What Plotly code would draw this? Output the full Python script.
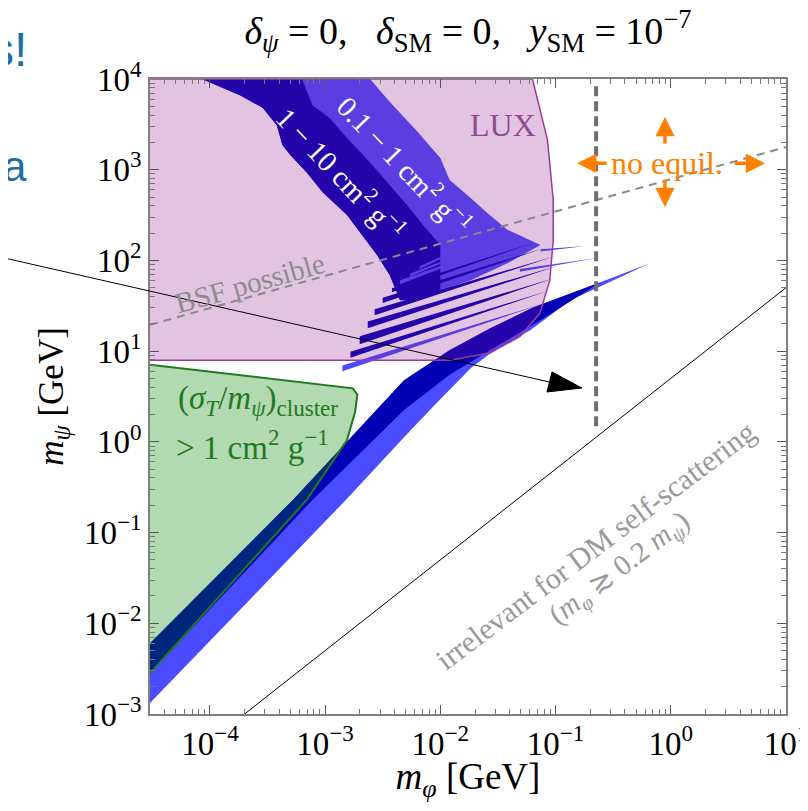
import numpy as np
import plotly.graph_objects as go

# region outlines, all as log10(mass / GeV)
LUX_LOG_MPHI = [-4.52, -1.20, -1.07, -1.02, -1.02, -1.05, -1.135, -1.31, -1.57, -1.92, -4.52]
LUX_LOG_MPSI = [4.00, 4.00, 3.33, 2.67, 2.22, 1.78, 1.42, 1.16, 0.98, 0.90, 0.90]

CLUSTER_LOG_MPHI = [-4.52, -3.45, -2.76, -2.72, -2.74, -2.81, -2.96, -3.16, -4.52]
CLUSTER_LOG_MPSI = [0.85, 0.69, 0.59, 0.52, 0.33, 0.02, -0.26, -0.64, -2.55]

# upper branch (1-10 and 0.1-1 cm^2/g)
UP_EDGE_LOG_MPHI = [-4.07, -3.74, -3.54, -3.42, -3.37, -3.30, -3.16, -3.02, -2.81, -2.70, -2.55, -2.44, -2.35]
UP_EDGE_LOG_MPSI = [4.00, 3.82, 3.68, 3.49, 3.27, 3.16, 2.97, 2.75, 2.50, 2.31, 2.06, 1.84, 1.56]
UP_DARK_RIGHT_LOG_MPHI = [-2.18, -2.00, -2.00, -2.15, -2.29, -2.44, -2.61, -2.81, -2.96, -3.11, -3.20]
UP_DARK_RIGHT_LOG_MPSI = [1.56, 1.67, 2.17, 2.39, 2.61, 2.83, 3.08, 3.35, 3.57, 3.71, 4.00]
UP_LIGHT_RIGHT_LOG_MPHI = [-2.00, -1.74, -1.40, -1.13, -1.42, -1.59, -1.72, -1.92, -2.00, -2.20, -2.44, -2.61]
UP_LIGHT_RIGHT_LOG_MPSI = [1.67, 1.78, 1.98, 2.17, 2.34, 2.52, 2.67, 2.89, 3.13, 3.42, 3.75, 4.00]

# lower branch
LOW_TOP_LOG_MPHI = [-4.52, -3.28, -2.315, -1.92, -1.57, -1.195, -0.61]
LOW_TOP_LOG_MPSI = [-2.22, -0.64, 0.68, 1.01, 1.25, 1.48, 1.76]
LOW_MID_LOG_MPHI = [-4.52, -3.11, -2.315, -1.92, -1.57, -1.13]
LOW_MID_LOG_MPSI = [-2.55, -0.64, 0.35, 0.74, 1.01, 1.34]
LOW_BOT_LOG_MPHI = [-4.52, -2.82, -2.315, -2.03, -1.73, -1.56, -1.22, -0.87, -0.18]
LOW_BOT_LOG_MPSI = [-2.88, -0.64, 0.05, 0.43, 0.82, 0.98, 1.23, 1.56, 1.97]

# resonance streaks: base (x0, y0), tip (x1, y1), half width, dark or light
WEDGE_X0 = [-2.85, -2.78, -2.70, -2.63, -2.57, -2.50, -2.42, -2.35, -2.26, -2.18, -1.13, -1.31]
WEDGE_Y0 = [0.81, 0.96, 1.12, 1.29, 1.43, 1.56, 1.67, 1.76, 1.84, 1.92, 2.11, 1.89]
WEDGE_X1 = [-1.09, -1.05, -1.00, -0.98, -1.00, -1.09, -1.18, -1.26, -1.35, -1.44, -0.74, -0.63]
WEDGE_Y1 = [1.53, 1.67, 1.81, 1.94, 2.05, 2.14, 2.20, 2.27, 2.31, 2.36, 2.16, 2.03]
WEDGE_W = [0.033, 0.033, 0.044, 0.038, 0.033, 0.028, 0.022, 0.022, 0.017, 0.017, 0.012, 0.015]
WEDGE_DARK = [False, True, True, True, True, True, True, False, False, False, False, False]

BSF_LOG_MPHI = [-4.52, 1.0]
BSF_LOG_MPSI = [1.29, 3.25]
EQUIL_MPHI = 0.225
EQUIL_LOG_MPSI = [3.92, 0.13]
RATIO = 0.2  # m_phi = 0.2 m_psi
RATIO_MPSI = [1e-3, 50]

X_TICKS = [1e-4, 1e-3, 1e-2, 1e-1, 1, 10]
X_TICK_TEXT = ["10<sup>−4</sup>", "10<sup>−3</sup>", "10<sup>−2</sup>", "10<sup>−1</sup>", "10<sup>0</sup>", "10<sup>1</sup>"]
Y_TICKS = [1e-3, 1e-2, 1e-1, 1, 10, 100, 1e3, 1e4]
Y_TICK_TEXT = ["10<sup>−3</sup>", "10<sup>−2</sup>", "10<sup>−1</sup>", "10<sup>0</sup>",
               "10<sup>1</sup>", "10<sup>2</sup>", "10<sup>3</sup>", "10<sup>4</sup>"]

DARK = "#0000B4"
LIGHT = "#4B4BFF"
SERIF = "Liberation Serif"


def gev(vals):
    return [None if v is None else 10 ** v for v in vals]


def poly(xs, ys, color, line_color=None, line_width=0, smooth=False):
    return go.Scatter(
        x=gev(xs), y=gev(ys), mode="lines", fill="toself", fillcolor=color,
        line=dict(color=line_color or color, width=line_width, shape="spline" if smooth else "linear"),
        hoverinfo="skip", showlegend=False,
    )


fig = go.Figure()

# lower branch
fig.add_trace(poly(LOW_TOP_LOG_MPHI + LOW_BOT_LOG_MPHI[::-1], LOW_TOP_LOG_MPSI + LOW_BOT_LOG_MPSI[::-1], LIGHT))
fig.add_trace(poly(LOW_TOP_LOG_MPHI + LOW_MID_LOG_MPHI[::-1], LOW_TOP_LOG_MPSI + LOW_MID_LOG_MPSI[::-1], DARK))

# upper branch
fig.add_trace(poly(UP_EDGE_LOG_MPHI + UP_LIGHT_RIGHT_LOG_MPHI, UP_EDGE_LOG_MPSI + UP_LIGHT_RIGHT_LOG_MPSI, LIGHT))
fig.add_trace(poly(UP_EDGE_LOG_MPHI + UP_DARK_RIGHT_LOG_MPHI, UP_EDGE_LOG_MPSI + UP_DARK_RIGHT_LOG_MPSI, DARK))

# streaks
for dark in (False, True):
    wx, wy = [], []
    for x0, y0, x1, y1, w, d in zip(WEDGE_X0, WEDGE_Y0, WEDGE_X1, WEDGE_Y1, WEDGE_W, WEDGE_DARK):
        if d != dark:
            continue
        wx += [x0, x1, x0, x0, None]
        wy += [y0 + w, y1, y0 - w, y0 + w, None]
    fig.add_trace(poly(wx, wy, DARK if dark else LIGHT))

# LUX and cluster constraints
fig.add_trace(poly(LUX_LOG_MPHI, LUX_LOG_MPSI, "rgba(140,20,140,0.25)", "#9B3C9B", 1.5))
fig.add_trace(poly(CLUSTER_LOG_MPHI, CLUSTER_LOG_MPSI, "rgba(0,128,0,0.3)", "#1E7B1E", 2))

# lines
fig.add_trace(go.Scatter(x=gev(BSF_LOG_MPHI), y=gev(BSF_LOG_MPSI), mode="lines",
                         line=dict(color="#888888", width=2, dash="8px,6px"), hoverinfo="skip", showlegend=False))
fig.add_trace(go.Scatter(x=[EQUIL_MPHI, EQUIL_MPHI], y=gev(EQUIL_LOG_MPSI), mode="lines",
                         line=dict(color="#6E6E6E", width=4, dash="10px,5px"), hoverinfo="skip", showlegend=False))
fig.add_trace(go.Scatter(x=[RATIO * m for m in RATIO_MPSI], y=RATIO_MPSI, mode="lines",
                         line=dict(color="black", width=1), hoverinfo="skip", showlegend=False))


def minor_vals(lo, hi):
    return [k * 10.0 ** n for n in range(lo, hi) for k in range(2, 10)]


axis_common = dict(
    type="log", showgrid=False, zeroline=False, showline=True, linecolor="#808080", linewidth=1.5,
    mirror="allticks", ticks="inside", ticklen=9, tickcolor="#555555", tickwidth=1, automargin=False,
    tickfont=dict(family=SERIF, size=33, color="black"), ticklabeloverflow="allow",
)
fig.update_xaxes(
    range=[-4.52, 1.0005], tickmode="array", tickvals=X_TICKS, ticktext=X_TICK_TEXT,
    minor=dict(tickmode="array", tickvals=minor_vals(-5, 1), ticks="inside", ticklen=5, tickcolor="#777777"),
    title=dict(text="<i>m</i><sub><i>φ</i></sub> [GeV]", font=dict(family=SERIF, size=37, color="black"), standoff=2),
    **axis_common,
)
fig.update_yaxes(
    range=[-3, 4], tickmode="array", tickvals=Y_TICKS, ticktext=Y_TICK_TEXT,
    minor=dict(tickmode="array", tickvals=minor_vals(-3, 4), ticks="inside", ticklen=5, tickcolor="#777777"),
    title=dict(text="<i>m</i><sub><i>ψ</i></sub> [GeV]", font=dict(family=SERIF, size=35, color="black"), standoff=10),
    **axis_common,
)

ann = []


def label(text, x, y, color, size, angle=0, **kw):
    ann.append(dict(text=text, x=x, y=y, xref="x", yref="y", showarrow=False, textangle=angle,
                    font=dict(family=SERIF, size=size, color=color), **kw))


label("LUX", -1.456, 3.49, "#8E4A8E", 32)
label("BSF possible", -3.65, 1.75, "#8C8C8C", 29, -15.7)
label("no equil.", -0.032, 3.07, "#FF8000", 32)
label("1 − 10 cm<sup>2</sup> g<sup>−1</sup>", -2.86, 2.96, "white", 29, 46.6)
label("0.1 − 1 cm<sup>2</sup> g<sup>−1</sup>", -2.31, 3.06, "white", 29, 46.5)
label("(<i>σ</i><sub><i>T</i></sub>/<i>m</i><sub><i>ψ</i></sub>)<sub>cluster</sub>", -3.58, 0.46, "#1E7B1E", 33)
label("> 1 cm<sup>2</sup> g<sup>−1</sup>", -3.63, -0.035, "#1E7B1E", 33)
label("irrelevant for DM self-scattering", -0.657, -1.14, "#999999", 30, -37)
label("(<i>m</i><sub><i>φ</i></sub> ≳ 0.2 <i>m</i><sub><i>ψ</i></sub>)", -0.44, -1.41, "#999999", 29, -37)

# orange arrows round "no equil."
for hx, hy, ax, ay in [(-0.813, 3.07, 31, 0), (0.819, 3.07, -32, 0), (-0.05, 3.58, 0, 28), (-0.05, 2.59, 0, -29)]:
    ann.append(dict(x=hx, y=hy, xref="x", yref="y", ax=ax, ay=ay, text="", showarrow=True,
                    arrowhead=2, arrowsize=1.1, arrowwidth=3.5, arrowcolor="#FF8000"))

# slide overlay text
for txt, xp, yp, size in [("s!", -0.19, 1.046, 48), ("va", -0.19, 0.862, 42)]:
    ann.append(dict(text=txt, x=xp, y=yp, xref="paper", yref="paper", xanchor="right", yanchor="middle",
                    showarrow=False, font=dict(family="Liberation Sans", size=size, color="#1D6FA5")))

# the page body adds an 8 px margin, so the figure is made 16 px smaller
fig.update_layout(
    width=792, height=795,
    margin=dict(l=142, r=14, t=71, b=89),
    paper_bgcolor="white", plot_bgcolor="white",
    title=dict(text="<i>δ</i><sub><i>ψ</i></sub> = 0,&nbsp;&nbsp; <i>δ</i><sub>SM</sub> = 0,&nbsp;&nbsp; <i>y</i><sub>SM</sub> = 10<sup>−7</sup>",
               x=0.5, xref="paper", y=0.972, yref="container", xanchor="center", yanchor="middle",
               font=dict(family=SERIF, size=38, color="black")),
    annotations=ann,
    shapes=[
        dict(type="line", xref="paper", yref="paper", x0=-0.236, y0=0.7197, x1=0.6281, y1=0.5228,
             line=dict(color="black", width=1)),
        dict(type="path", xref="paper", yref="paper", path="M 0.679 0.5134 L 0.6242 0.5071 L 0.6321 0.5386 Z",
             fillcolor="black", line=dict(color="black", width=1)),
    ],
)

fig.write_html("out.html")
